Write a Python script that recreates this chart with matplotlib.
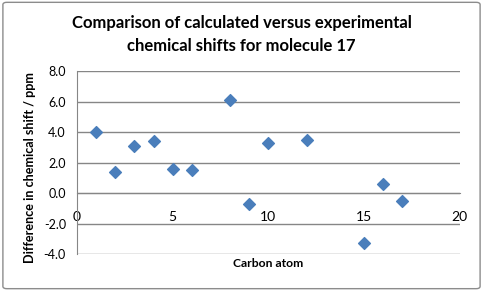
import matplotlib
matplotlib.use("Agg")
import matplotlib.pyplot as plt
from matplotlib.patches import FancyBboxPatch

carbon_atom = [1, 2, 3, 4, 5, 6, 8, 9, 10, 12, 15, 16, 17]
shift_diff = [4.0, 1.4, 3.1, 3.4, 1.6, 1.5, 6.1, -0.7, 3.3, 3.5, -3.3, 0.6, -0.5]
y_ticks = [-4.0, -2.0, 0.0, 2.0, 4.0, 6.0, 8.0]
x_ticks = [0, 5, 10, 15, 20]

title = "Comparison of calculated versus experimental\nchemical shifts for molecule 17"
xlabel = "Carbon atom"
ylabel = "Difference in chemical shift / ppm"

plt.rcParams['font.family'] = ['Lato', 'DejaVu Sans']

fig = plt.figure(figsize=(4.83, 2.91), dpi=100)
fig.patch.set_facecolor('white')
border = FancyBboxPatch((0.006, 0.008), 0.988, 0.984, boxstyle="round,pad=0,rounding_size=0.008",
                        transform=fig.transFigure, fill=False, edgecolor='#8c8c8c', linewidth=1.0)
fig.patches.append(border)

ax = fig.add_axes([0.1594, 0.127, 0.7926, 0.629])
ax.set_xlim(0, 20)
ax.set_ylim(-4, 8)
ax.set_yticks(y_ticks)
ax.set_yticklabels([f"{v:.1f}" for v in y_ticks], fontsize=9)
ax.set_xticks(x_ticks)
ax.set_xticklabels([str(v) for v in x_ticks], fontsize=9)
ax.grid(axis='y', color='#868686', linewidth=1.0)
ax.set_axisbelow(True)
for s in ['top', 'right']:
    ax.spines[s].set_visible(False)
ax.spines['left'].set_color('#868686')
ax.spines['bottom'].set_position(('data', 0))
ax.spines['bottom'].set_color('#868686')
ax.tick_params(axis='both', length=0)
ax.tick_params(axis='y', pad=8)
ax.tick_params(axis='x', pad=13)

ax.scatter(carbon_atom, shift_diff, marker='D', s=36, color='#4a7ebb', zorder=3, clip_on=False)

fig.text(0.5, 0.88, title, ha='center', va='center', fontsize=12, fontweight='bold', linespacing=1.55)
fig.text(0.555, 0.093, xlabel, ha='center', va='center', fontsize=8.7, fontweight='bold')
fig.text(0.062, 0.423, ylabel, ha='center', va='center', fontsize=9.1, fontweight='bold', rotation=90)

fig.savefig("out.png", dpi=100)
